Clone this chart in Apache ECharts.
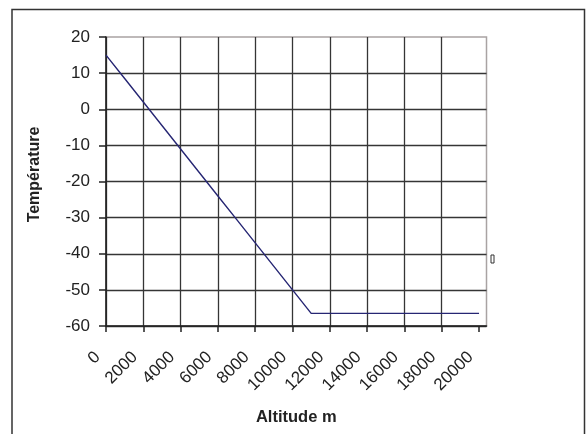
<!DOCTYPE html>
<html>
<head>
<meta charset="utf-8">
<script src="https://cdn.jsdelivr.net/npm/echarts@6/dist/echarts.min.js"></script>
<style>
html,body{margin:0;padding:0;background:#fff;}
#c{width:586px;height:434px;}
</style>
</head>
<body>
<div id="c"></div>
<script>
// Altitude (m) and temperature
const altitudes = [0, 1000, 2000, 3000, 4000, 5000, 6000, 7000, 8000, 9000, 10000, 11000, 12000, 13000, 14000, 15000, 16000, 17000, 18000, 19000, 20000];
const temperatures = [15, 8.5, 2, -4.5, -11, -17.5, -24, -30.5, -37, -43.5, -50, -56.5, -56.5, -56.5, -56.5, -56.5, -56.5, -56.5, -56.5, -56.5, -56.5];
const xTicks = [0, 2000, 4000, 6000, 8000, 10000, 12000, 14000, 16000, 18000, 20000];
const yTicks = [-60, -50, -40, -30, -20, -10, 0, 10, 20];
const xTitle = 'Altitude m';
const yTitle = 'Température';

const chart = echarts.init(document.getElementById('c'), null, {renderer: 'canvas'});
const font = '"Liberation Sans", Arial, sans-serif';
const seriesData = altitudes.map((a, i) => [a, temperatures[i]]);

chart.setOption({
  animation: false,
  backgroundColor: '#fff',
  grid: {
    left: 106, right: 99.5, top: 37, bottom: 108,
    show: true, borderColor: '#a9a3a3', borderWidth: 1.5, backgroundColor: 'transparent'
  },
  xAxis: {
    type: 'value',
    min: 0, max: 20400, interval: 2000,
    name: xTitle, nameLocation: 'middle', nameGap: 83,
    nameTextStyle: {fontFamily: font, fontSize: 16.5, fontWeight: 'bold', color: '#222'},
    axisLine: {show: true, onZero: false, lineStyle: {color: '#222', width: 1.5}},
    axisTick: {show: true, length: 6, customValues: xTicks, lineStyle: {color: '#222', width: 1.5}},
    axisLabel: {
      customValues: xTicks,
      rotate: 45, margin: 20, padding: [0, 12, 0, 0],
      fontFamily: font, fontSize: 17, color: '#222',
      formatter: v => (xTicks.indexOf(v) >= 0 ? String(v) : '')
    },
    splitLine: {show: true, showMaxLine: false, lineStyle: {color: '#353535', width: 1.3}}
  },
  yAxis: {
    type: 'value',
    min: -60, max: 20, interval: 10,
    name: yTitle, nameLocation: 'middle', nameGap: 63, nameRotate: 90,
    nameTextStyle: {fontFamily: font, fontSize: 16, fontWeight: 'bold', color: '#222', padding: [0, 0, 0, 14]},
    axisLine: {show: true, onZero: false, lineStyle: {color: '#222', width: 1.5}},
    axisTick: {show: true, length: 7, lineStyle: {color: '#222', width: 1.5}},
    axisLabel: {margin: 16, fontFamily: font, fontSize: 17, color: '#222',
      formatter: v => (yTicks.indexOf(v) >= 0 ? String(v) : '')},
    splitLine: {show: true, showMaxLine: false, lineStyle: {color: '#353535', width: 1.3}}
  },
  series: [{
    type: 'line',
    data: seriesData,
    showSymbol: false,
    symbol: 'none',
    lineStyle: {color: '#262673', width: 1.4},
    z: 5
  }],
  graphic: [
    {type: 'rect', shape: {x: 12, y: 9.5, width: 572.5, height: 440},
      style: {fill: 'none', stroke: '#333', lineWidth: 1.5}, silent: true},
    {type: 'rect', shape: {x: 491, y: 255, width: 3, height: 8},
      style: {fill: '#fff', stroke: '#333', lineWidth: 1}, silent: true}
  ]
});
</script>
</body>
</html>
